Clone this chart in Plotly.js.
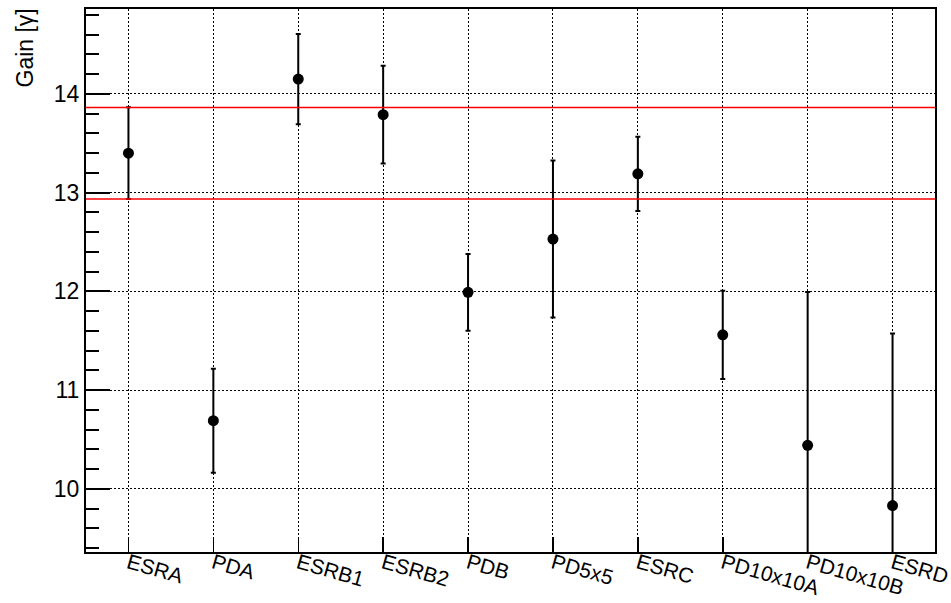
<!DOCTYPE html>
<html>
<head>
<meta charset="utf-8">
<script src="https://cdn.plot.ly/plotly-3.0.1.min.js"></script>
<style>html,body{margin:0;padding:0;background:#fff;}#chart{width:951px;height:603px;}</style>
</head>
<body>
<div id="chart"></div>
<script>
const categories = ['ESRA','PDA','ESRB1','ESRB2','PDB','PD5x5','ESRC','PD10x10A','PD10x10B','ESRD'];
const gain = [13.40, 10.69, 14.15, 13.79, 11.99, 12.53, 13.19, 11.56, 10.44, 9.83];
const gainErr = [0.464, 0.527, 0.457, 0.495, 0.389, 0.795, 0.375, 0.447, 1.553, 1.742];
const redLines = [13.863, 12.935];
const yTitle = 'Gain [γ]';

const font = 'Liberation Sans, Arial, Helvetica, sans-serif';

const trace = {
  type: 'scatter',
  mode: 'markers',
  x: categories,
  y: gain,
  marker: {color: '#000', size: 11},
  error_y: {type: 'data', array: gainErr, visible: true, color: '#000', thickness: 2, width: 2.5},
  showlegend: false,
  hoverinfo: 'x+y'
};

const shapes = redLines.map(v => ({
  type: 'line', xref: 'paper', yref: 'y', x0: 0, x1: 1, y0: v, y1: v,
  line: {color: '#ff0000', width: 1.5}, layer: 'above'
}));

const layout = {
  width: 951, height: 603,
  margin: {l: 86, r: 16, t: 9, b: 51},
  paper_bgcolor: '#fff', plot_bgcolor: '#fff',
  font: {family: font, color: '#000'},
  xaxis: {
    type: 'category',
    range: [-0.5, 9.5],
    showline: true, linecolor: '#000', linewidth: 2, mirror: true,
    ticks: 'inside', ticklen: 15, tickwidth: 1.5, tickcolor: '#000',
    tickangle: 16,
    ticklabelstandoff: -11,
    tickfont: {family: font, size: 21, color: '#000'},
    showgrid: true, gridcolor: '#000', gridwidth: 1, griddash: '2px,2px',
    zeroline: false
  },
  yaxis: {
    range: [9.36, 14.86],
    dtick: 1, tick0: 0,
    showline: true, linecolor: '#000', linewidth: 2, mirror: true,
    ticks: 'inside', ticklen: 24, tickwidth: 2, tickcolor: '#000',
    tickfont: {family: font, size: 23, color: '#000'},
    minor: {dtick: 0.2, ticks: 'inside', ticklen: 13, tickwidth: 2, tickcolor: '#000', showgrid: false},
    showgrid: true, gridcolor: '#000', gridwidth: 1, griddash: '2px,2px',
    zeroline: false
  },
  shapes: shapes,
  annotations: [{
    text: yTitle, xref: 'paper', yref: 'paper', x: 0, y: 1,
    xanchor: 'center', yanchor: 'top', xshift: -62, yshift: 2,
    textangle: -90, showarrow: false,
    font: {family: font, size: 23, color: '#000'}
  }]
};

Plotly.newPlot('chart', [trace], layout, {displayModeBar: false, staticPlot: true});
</script>
</body>
</html>
